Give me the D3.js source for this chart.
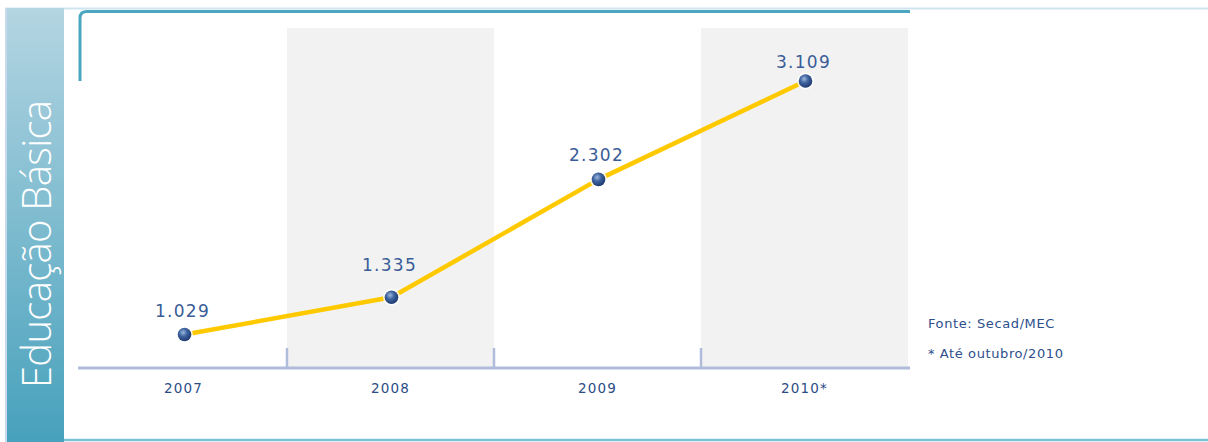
<!DOCTYPE html>
<html>
<head>
<meta charset="utf-8">
<script src="https://cdn.jsdelivr.net/npm/d3@7"></script>
<style>
  html, body { margin: 0; padding: 0; background: #ffffff; }
  svg { display: block; }
</style>
</head>
<body>
<svg id="chart" width="1208" height="442"></svg>
<script>
// Data
const years = ["2007", "2008", "2009", "2010*"];
const values = [1029, 1335, 2302, 3109];
const valueLabels = ["1.029", "1.335", "2.302", "3.109"];
const sectionTitle = "Educação Básica";
const notes = ["Fonte: Secad/MEC", "* Até outubro/2010"];

// Hand-set vertical offsets of the value labels above their points
const labelDy = [-18, -26, -18, -13];

const svg = d3.select("#chart");
const W = 1208, H = 442;
const labelFont = "'DejaVu Sans', Verdana, sans-serif";

const defs = svg.append("defs");
const side = defs.append("linearGradient").attr("id", "sideGrad")
  .attr("x1", 0).attr("y1", 0).attr("x2", 0).attr("y2", 1);
side.append("stop").attr("offset", "0%").attr("stop-color", "#b4d5e2");
side.append("stop").attr("offset", "100%").attr("stop-color", "#47a1bc");

const ball = defs.append("radialGradient").attr("id", "ballGrad")
  .attr("cx", "40%").attr("cy", "35%").attr("r", "65%");
ball.append("stop").attr("offset", "0%").attr("stop-color", "#9db8dc");
ball.append("stop").attr("offset", "45%").attr("stop-color", "#3f64a0");
ball.append("stop").attr("offset", "100%").attr("stop-color", "#1e3a70");

// Frame: thin top rule, side panel, bottom rule
svg.append("line").attr("x1", 5).attr("x2", W).attr("y1", 8.5).attr("y2", 8.5)
  .attr("stroke", "#cfe4ef").attr("stroke-width", 2);
svg.append("rect").attr("x", 5).attr("y", 8).attr("width", 2).attr("height", H - 8)
  .attr("fill", "#c9d9ec");
svg.append("rect").attr("x", 7).attr("y", 8).attr("width", 57).attr("height", H - 8)
  .attr("fill", "url(#sideGrad)");
svg.append("line").attr("x1", 64).attr("x2", W).attr("y1", 440).attr("y2", 440)
  .attr("stroke", "#7cc2d6").attr("stroke-width", 2.5);

svg.append("text")
  .attr("transform", "translate(51,388) rotate(-90)")
  .attr("font-family", "'Open Sans', 'DejaVu Sans', sans-serif")
  .attr("font-weight", 300)
  .attr("font-size", 40)
  .attr("fill", "#ffffff")
  .attr("textLength", 288)
  .text(sectionTitle);

// Teal bracket along the top of the plot
svg.append("path")
  .attr("d", "M80,81 L80,18 Q80,11.5 87,11.5 L910,11.5")
  .attr("fill", "none").attr("stroke", "#4aa6c1").attr("stroke-width", 3);

// Scales
const x = d3.scaleBand().domain(years).range([80, 908]).padding(0);
const y = d3.scaleLinear().domain([0, 3109]).range([460, 81]);
const axisY = 368;

// Alternating background bands
svg.append("g").selectAll("rect")
  .data(years.filter((d, i) => i % 2 === 1))
  .join("rect")
  .attr("x", d => x(d)).attr("y", 28)
  .attr("width", x.bandwidth()).attr("height", axisY - 28)
  .attr("fill", "#f2f2f2");

// Axis with dividers between years
const axis = d3.axisBottom(x).tickSize(0).tickPadding(15);
const gx = svg.append("g").attr("transform", `translate(0,${axisY})`).call(axis);
gx.select(".domain").remove();
gx.selectAll("text")
  .attr("font-family", labelFont)
  .attr("font-size", 13.5).attr("letter-spacing", 1.2)
  .attr("fill", "#2b4d86").attr("dy", "0.71em");
svg.append("line").attr("x1", 78).attr("x2", 910)
  .attr("y1", axisY).attr("y2", axisY)
  .attr("stroke", "#b0bcdc").attr("stroke-width", 3);
svg.append("g").selectAll("line")
  .data(years.slice(1))
  .join("line")
  .attr("x1", d => x(d)).attr("x2", d => x(d))
  .attr("y1", 348).attr("y2", axisY)
  .attr("stroke", "#b0bcdc").attr("stroke-width", 2.5);

// Line
const cx = d => x(d) + x.bandwidth() / 2 + 1;
const pts = years.map((d, i) => [cx(d), y(values[i])]);
svg.append("path")
  .attr("d", d3.line()(pts))
  .attr("fill", "none").attr("stroke", "#ffc900").attr("stroke-width", 4.5)
  .attr("stroke-linejoin", "round");

// Points
const pg = svg.append("g").selectAll("g").data(years).join("g")
  .attr("transform", (d, i) => `translate(${cx(d)},${y(values[i])})`);
pg.append("circle").attr("r", 8.5).attr("fill", "#ffffff").attr("opacity", 0.8);
pg.append("circle").attr("r", 6.8).attr("fill", "url(#ballGrad)");

// Value labels
svg.append("g").selectAll("text").data(years).join("text")
  .attr("x", d => cx(d) - 2)
  .attr("y", (d, i) => y(values[i]) + labelDy[i])
  .attr("text-anchor", "middle")
  .attr("font-family", labelFont)
  .attr("font-size", 17).attr("letter-spacing", 1.3)
  .attr("fill", "#3a5d97")
  .text((d, i) => valueLabels[i]);

// Notes
svg.append("g").selectAll("text").data(notes).join("text")
  .attr("x", 928).attr("y", (d, i) => 328 + i * 30)
  .attr("font-family", labelFont)
  .attr("font-size", 13).attr("letter-spacing", 0.6)
  .attr("fill", "#2d4f8c")
  .text(d => d);
</script>
</body>
</html>
